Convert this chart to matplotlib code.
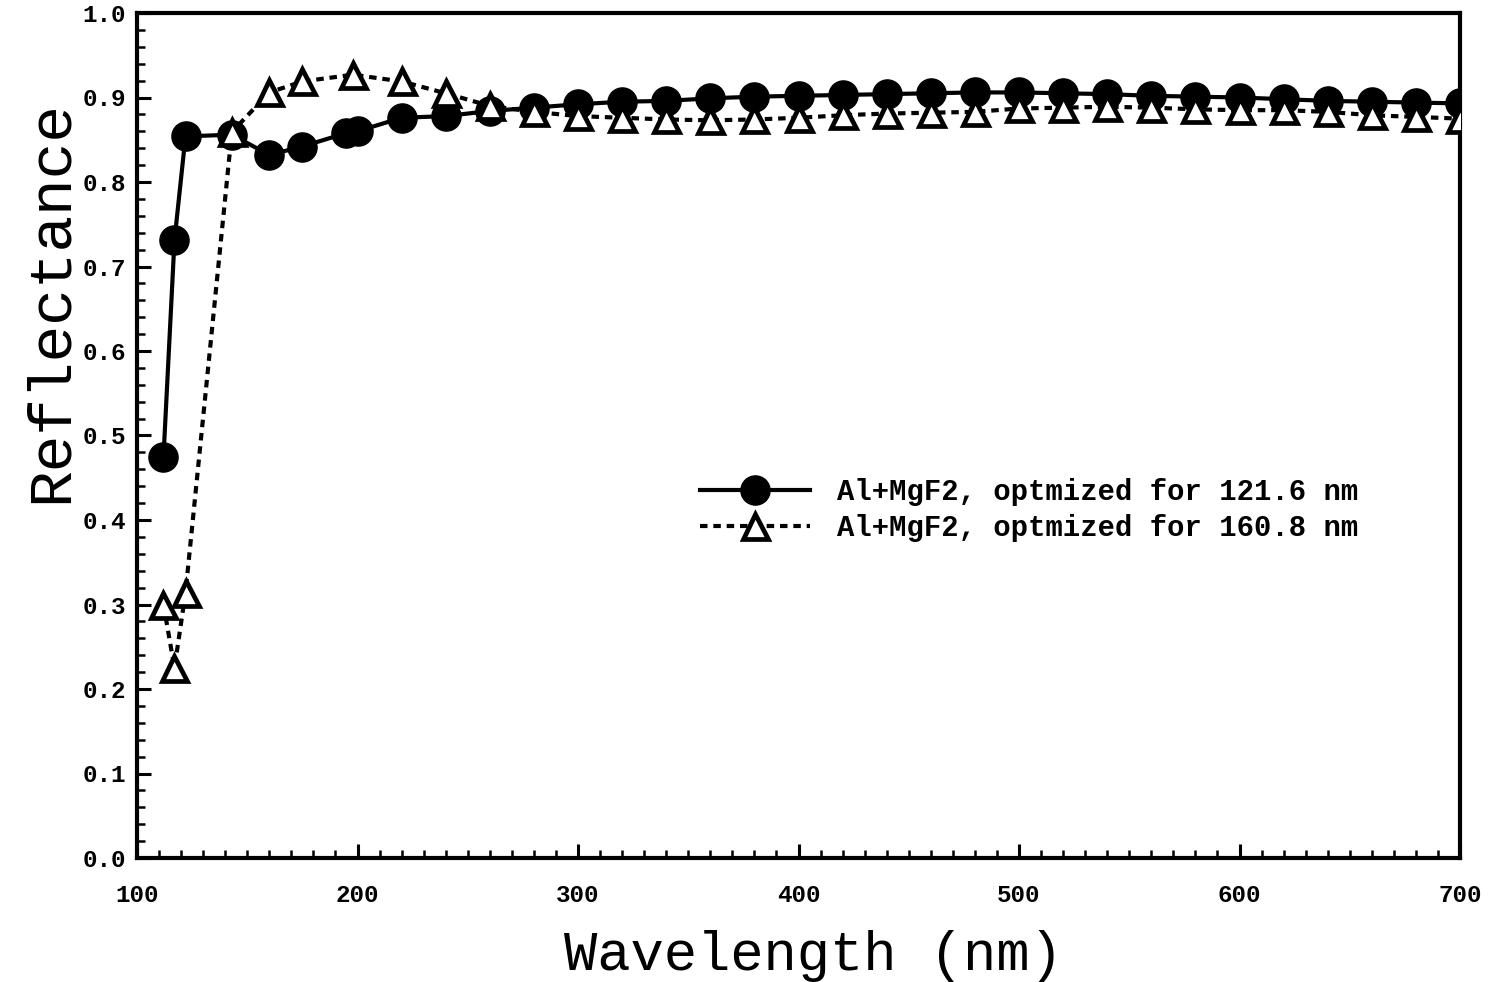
import matplotlib
matplotlib.use("Agg")
import matplotlib.pyplot as plt
from matplotlib.ticker import MultipleLocator

# ---- data ----
wl_a = [112, 117, 122, 143, 160, 175, 195, 200, 220, 240, 260, 280, 300, 320, 340,
        360, 380, 400, 420, 440, 460, 480, 500, 520, 540, 560, 580, 600, 620, 640,
        660, 680, 700]
refl_a = [0.474, 0.731, 0.854, 0.856, 0.832, 0.842, 0.858, 0.860, 0.876, 0.878, 0.884,
          0.888, 0.892, 0.895, 0.896, 0.899, 0.901, 0.902, 0.903, 0.904, 0.905, 0.906,
          0.906, 0.905, 0.904, 0.902, 0.901, 0.900, 0.898, 0.896, 0.895, 0.894, 0.893]

wl_b = [112, 117, 122, 143, 160, 175, 198, 220, 240, 260, 280, 300, 320, 340, 360,
        380, 400, 420, 440, 460, 480, 500, 520, 540, 560, 580, 600, 620, 640, 660,
        680, 700]
refl_b = [0.300, 0.225, 0.314, 0.859, 0.906, 0.919, 0.927, 0.919, 0.905, 0.890, 0.883,
          0.878, 0.876, 0.874, 0.873, 0.874, 0.876, 0.879, 0.881, 0.882, 0.883, 0.887,
          0.888, 0.889, 0.888, 0.886, 0.885, 0.885, 0.883, 0.879, 0.877, 0.875]

label_a = "Al+MgF2, optmized for 121.6 nm"
label_b = "Al+MgF2, optmized for 160.8 nm"
xlabel = "Wavelength (nm)"
ylabel = "Reflectance"

fig = plt.figure(figsize=(14.88, 9.82), dpi=100)
ax = fig.add_axes([137 / 1488, 124 / 982, 1323 / 1488, 845 / 982])

ax.plot(wl_a, refl_a, color="black", lw=3, marker="o", ms=21,
        markerfacecolor="black", markeredgecolor="black", label=label_a, zorder=3)
ax.plot(wl_b, refl_b, color="black", lw=3, linestyle=(0, (1.8, 1.4)), marker="^",
        ms=18, markerfacecolor="white", markeredgecolor="black", markeredgewidth=3.4,
        label=label_b, zorder=4)

ax.set_xlim(100, 700)
ax.set_ylim(0.0, 1.0)
ax.xaxis.set_major_locator(MultipleLocator(100))
ax.xaxis.set_minor_locator(MultipleLocator(10))
ax.yaxis.set_major_locator(MultipleLocator(0.1))
ax.yaxis.set_minor_locator(MultipleLocator(0.02))
ax.yaxis.set_major_formatter(plt.FuncFormatter(lambda v, p: f"{v:.1f}"))

for s in ax.spines.values():
    s.set_linewidth(3)
ax.tick_params(which="both", direction="in", top=False, right=False, color="black")
ax.tick_params(which="major", length=10, width=2.2)
ax.tick_params(which="minor", length=6, width=1.8)
ax.tick_params(axis="x", which="major", pad=19)
ax.tick_params(axis="y", which="major", pad=8)
for lab in ax.get_xticklabels() + ax.get_yticklabels():
    lab.set_fontfamily("Liberation Mono")
    lab.set_fontweight("bold")
    lab.set_fontsize(17.5)

ax.set_xlabel(xlabel, fontfamily="Liberation Mono", fontsize=40)
ax.set_ylabel(ylabel, fontfamily="Liberation Mono", fontsize=44)
ax.xaxis.set_label_coords(0.511, -0.085)
ax.yaxis.set_label_coords(-0.043, 0.658)

leg = ax.legend(loc="center left", bbox_to_anchor=((700 - 137) / 1323, (858 - 510) / 845),
                frameon=False, handlelength=3.8, handletextpad=0.95, labelspacing=0.3,
                borderpad=0, borderaxespad=0,
                prop={"family": "Liberation Mono", "weight": "bold", "size": 20.8})

fig.savefig("out.png", dpi=100)
